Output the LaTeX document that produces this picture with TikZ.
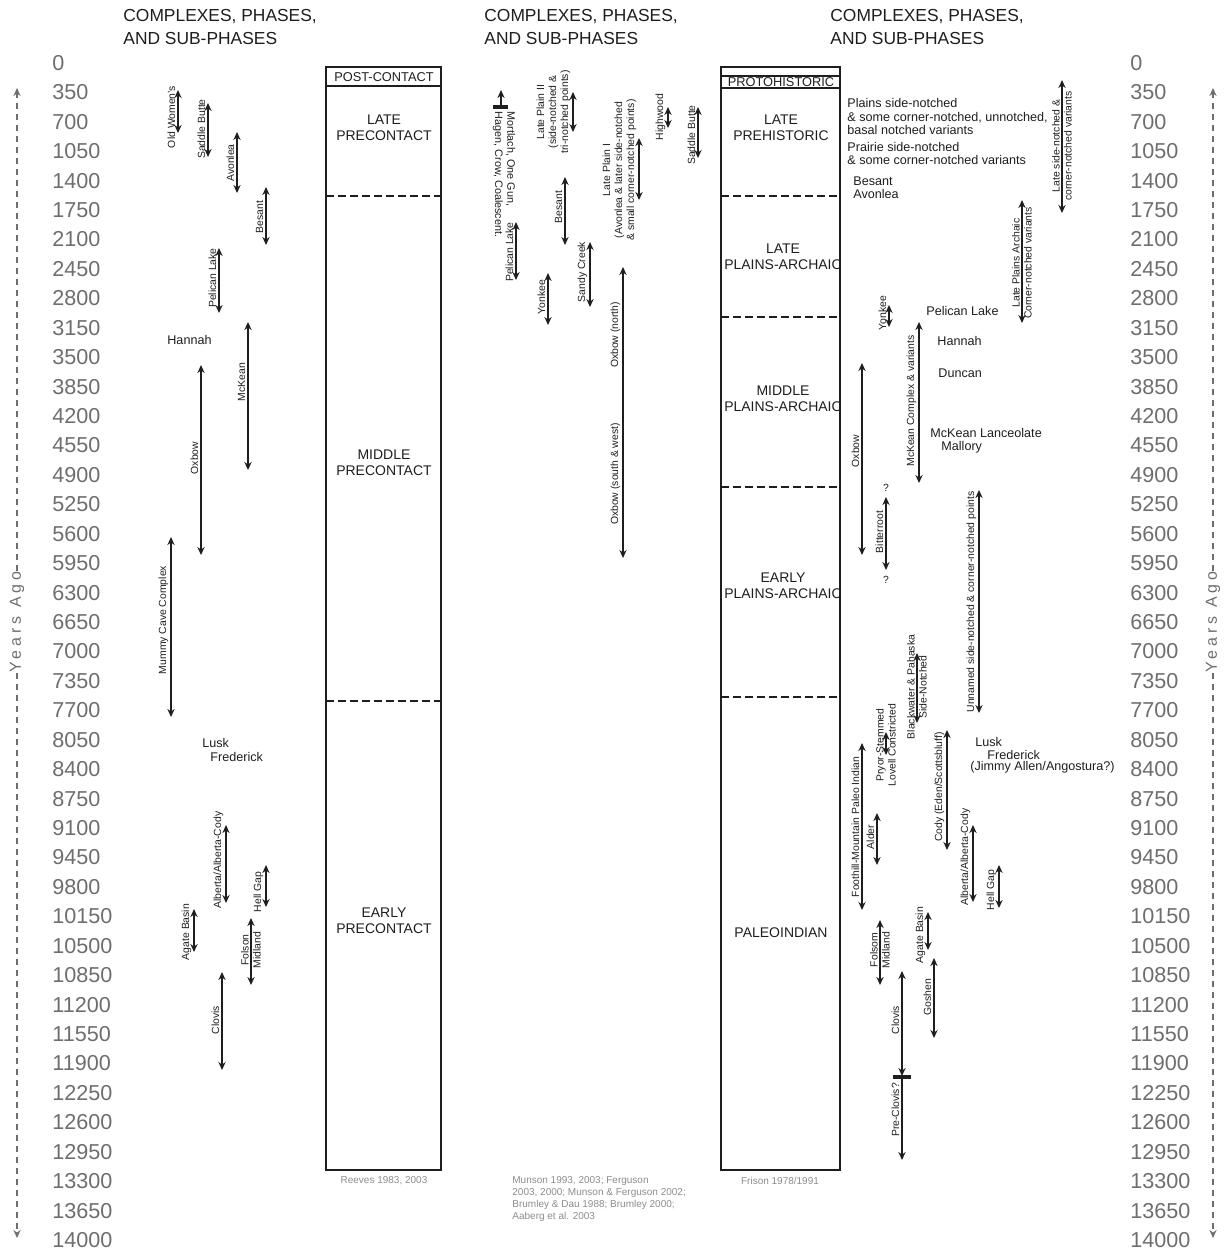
\documentclass[tikz,border=0pt]{standalone}
\usepackage{fontspec}
\setmainfont{Liberation Sans}
\newfontfamily\spacedfont[LetterSpace=25]{Liberation Sans}
\usetikzlibrary{arrows.meta}

\definecolor{axisgray}{HTML}{6E6E6E}
\definecolor{citegray}{HTML}{8C8C8C}
\definecolor{inkgray}{HTML}{1E1E1E}

% phase range: [label style] name, x, top, bottom, label y, text
\newcommand{\phase}[7][tag]{%
  \coordinate (#2-t) at (#3,#4);
  \coordinate (#2-b) at (#3,#5);
  \draw[spanarrow] (#2-t) -- (#2-b);
  \node[#1] (#2-l) at (#3,#6) {#7};
}

\begin{document}
\begin{tikzpicture}[
    x=0.5pt, y=-0.5pt,
    spanarrow/.style={{Stealth[length=4pt,width=3.6pt]}-{Stealth[length=4pt,width=3.6pt]}, line width=0.8pt, draw=inkgray},
    onetip/.style={-{Stealth[length=4pt,width=3.6pt]}, line width=0.8pt, draw=inkgray},
    tbar/.style={line width=1.6pt, draw=inkgray},
    tag/.style={rotate=90, anchor=south, align=center, inner sep=1.2pt, text=inkgray, font=\fontsize{5.2}{6}\selectfont},
    tagc/.style={tag, anchor=center, inner sep=0pt},
    typename/.style={anchor=west, align=left, inner sep=0pt, text=inkgray, font=\fontsize{6.3}{6.6}\selectfont},
    colhead/.style={anchor=north west, align=left, inner sep=0pt, text=inkgray, font=\fontsize{8.7}{11.5}\selectfont},
    yr/.style={anchor=west, inner sep=0pt, text=axisgray, font=\fontsize{10.8}{12}\selectfont},
    colbox/.style={draw=inkgray, line width=1pt},
    divide/.style={draw=inkgray, line width=1pt, dash pattern=on 4pt off 2pt},
    era/.style={align=center, inner sep=0pt, text=inkgray, font=\fontsize{7}{8}\selectfont},
    smallera/.style={era, font=\fontsize{6.4}{7}\selectfont},
    cite/.style={align=center, inner sep=0pt, text=citegray, font=\fontsize{5}{6}\selectfont},
    axisline/.style={draw=axisgray, line width=0.8pt, dash pattern=on 3pt off 2.5pt},
    axislab/.style={rotate=90, inner sep=0pt, text=axisgray, font=\fontsize{8}{9}\spacedfont}
]
\useasboundingbox (0,0) rectangle (1231,1253);

% headings
\node[colhead] (hd-a) at (123,9) {COMPLEXES, PHASES,\\AND SUB-PHASES};
\node[colhead] (hd-b) at (484,9) {COMPLEXES, PHASES,\\AND SUB-PHASES};
\node[colhead] (hd-c) at (830,9) {COMPLEXES, PHASES,\\AND SUB-PHASES};

% years ago scales
\foreach \i in {0,...,40}{
  \pgfmathtruncatemacro{\yrs}{\i*350}
  \node[yr] (yl-\i) at (52,{63+\i*29.425}) {\yrs};
  \node[yr] (yr-\i) at (1130,{63+\i*29.425}) {\yrs};
}
\coordinate (axl-t) at (17,88);
\coordinate (axl-b) at (17,1238);
\node[axislab] (axl) at (17,622) {Years Ago};
\draw[axisline, onetip, draw=axisgray] (axl.west) -- (axl-b);
\draw[axisline, onetip, draw=axisgray] (axl.east) -- (axl-t);
\coordinate (axr-t) at (1213,88);
\coordinate (axr-b) at (1213,1238);
\node[axislab] (axr) at (1213,622) {Years Ago};
\draw[axisline, onetip, draw=axisgray] (axr.west) -- (axr-b);
\draw[axisline, onetip, draw=axisgray] (axr.east) -- (axr-t);

% Reeves complexes
\phase{ow}{178}{90}{133}{117}{Old Women's}
\phase{sb}{208}{103}{157}{129}{Saddle Butte}
\phase{av}{237}{132}{193}{163}{Avonlea}
\phase{bs}{266}{187}{245}{217}{Besant}
\phase{pl}{219}{248}{313}{278}{Pelican Lake}
\phase{mk}{248}{322}{470}{382}{McKean}
\phase{ox}{201}{365}{555}{458}{Oxbow}
\phase{mc}{171}{537}{717}{620}{Mummy Cave Complex}
\phase{ab}{226}{825}{903}{860}{Alberta/Alberta-Cody}
\phase{hg}{266}{865}{907}{892}{Hell Gap}
\phase{ag}{194}{909}{952}{932}{Agate Basin}
\phase[tagc]{fm}{251}{918}{985}{950}{Folson\\Midland}
\phase{cl}{222}{972}{1070}{1020}{Clovis}
\node[typename] (hn) at (167,340) {Hannah};
\node[typename] (lk) at (202,743) {Lusk};
\node[typename] (fr) at (210,757) {Frederick};

% Reeves column
\draw[colbox] (326,67) rectangle (441,1170);
\draw[colbox] (326,86) -- (441,86);
\draw[divide] (326,196) -- (441,196);
\draw[divide] (326,701) -- (441,701);
\node[smallera] (pc) at (384,77) {POST-CONTACT};
\node[era] (lpc) at (384,128) {LATE\\PRECONTACT};
\node[era] (mpc) at (384,463) {MIDDLE\\PRECONTACT};
\node[era] (epc) at (384,921) {EARLY\\PRECONTACT};
\node[cite] (rv) at (384,1181) {Reeves 1983, 2003};

% Munson / Ferguson phases
\coordinate (mo-t) at (501,90);
\coordinate (mo-b) at (501,107);
\draw[onetip] (mo-b) -- (mo-t);
\draw[tbar] ([xshift=-4pt]mo-b) -- ([xshift=3.5pt]mo-b);
\node[tag, rotate=180, anchor=south west, align=left, font=\fontsize{5.4}{6.2}\selectfont] (mo-l) at (490,109) {Mortlach, One Gun,\\Hagen, Crow, Coalescent.};
\phase{lp2}{573}{92}{132}{112}{Late Plain II\\(side-notched \&\\tri-notched points)}
\phase{hw}{668}{107}{128}{117}{Highwood}
\phase{sb2}{698}{107}{158}{135}{Saddle Butte}
\phase{lp1}{639}{138}{200}{170}{Late Plain I\\(Avonlea \& later side-notched\\\& small corner-notched points)}
\phase{bs2}{565}{177}{245}{207}{Besant}
\phase{pl2}{516}{222}{280}{252}{Pelican Lake}
\phase{yk2}{548}{273}{325}{297}{Yonkee}
\phase{sc}{590}{242}{307}{272}{Sandy Creek}
\phase{oxn}{623}{267}{558}{335}{Oxbow (north)}
\node[tag] (oxs-l) at (623,474) {Oxbow (south \& west)};
\node[cite, anchor=north west, align=left] (mf) at (512,1176) {Munson 1993, 2003; Ferguson\\2003, 2000; Munson \& Ferguson 2002;\\Brumley \& Dau 1988; Brumley 2000;\\Aaberg et al. 2003};

% Frison column
\draw[colbox] (721,76) -- (840,76);
\draw[colbox] (721,88) -- (840,88);
\draw[divide] (721,196) -- (840,196);
\draw[divide] (721,317) -- (840,317);
\draw[divide] (721,487) -- (840,487);
\draw[divide] (721,697) -- (840,697);
\node[smallera] (ph) at (781,82) {PROTOHISTORIC};
\node[era] (lph) at (781,128) {LATE\\PREHISTORIC};
\node[era] (lpa-e) at (783,257) {LATE\\PLAINS-ARCHAIC};
\node[era] (mpa-e) at (783,399) {MIDDLE\\PLAINS-ARCHAIC};
\node[era] (epa-e) at (783,586) {EARLY\\PLAINS-ARCHAIC};
\node[era] (pi) at (781,933) {PALEOINDIAN};
\node[cite] (fs) at (780,1181) {Frison 1978/1991};
\draw[colbox] (721,67) rectangle (840,1170);

% Frison phases
\node[typename] (psn) at (847,116.5) {Plains side-notched\\\& some corner-notched, unnotched,\\basal notched variants};
\node[typename] (prs) at (847,153.5) {Prairie side-notched\\\& some corner-notched variants};
\node[typename] (ba) at (853,187.5) {Besant\\Avonlea};
\phase[tagc]{ls}{1062}{80}{213}{146}{Late side-notched \&\\corner-notched variants}
\phase[tagc]{lpa}{1022}{200}{323}{263}{Late Plains Archaic\\Corner-notched variants}
\phase{yk3}{889}{305}{327}{313}{Yonkee}
\node[typename] (pl3) at (926,311) {Pelican Lake};
\node[typename] (hn3) at (937,341) {Hannah};
\node[typename] (dn) at (938,373) {Duncan};
\node[typename] (mkl) at (930,433) {McKean Lanceolate};
\node[typename] (ml) at (941,447) {Mallory};
\phase{mkc}{919}{322}{483}{401}{McKean Complex \& variants}
\phase{ox3}{862}{363}{555}{451}{Oxbow}
\phase{br}{886}{497}{570}{532}{Bitterroot}
\node[tagc, rotate=-90] (bq1) at (886,488) {?};
\node[tagc, rotate=-90] (bq2) at (886,580) {?};
\phase{un}{979}{490}{713}{602}{Unnamed side-notched \& corner-notched points}
\phase[tagc]{bw}{917}{653}{723}{687}{Blackwater \& Pahaska\\Side-Notched}
\phase[tagc]{pry}{886}{732}{755}{745}{Pryor-Stemmed\\Lovell Constricted}
\phase{fmp}{862}{743}{910}{827}{Foothill-Mountain Paleo Indian}
\phase{cody}{947}{730}{850}{787}{Cody (Eden/Scottsbluff)}
\node[typename] (lk3) at (975,742) {Lusk};
\node[typename] (fr3) at (987,755) {Frederick};
\node[typename] (ja) at (970,767) {(Jimmy Allen/Angostura?)};
\phase{al}{877}{813}{865}{837}{Alder}
\phase{ab3}{973}{825}{902}{857}{Alberta/Alberta-Cody}
\phase{hg3}{999}{865}{908}{890}{Hell Gap}
\phase{ag3}{928}{912}{950}{935}{Agate Basin}
\phase[tagc]{fm3}{880}{920}{985}{950}{Folsom\\Midland}
\phase{gs}{934}{958}{1038}{997}{Goshen}
\phase{cl3}{902}{971}{1076}{1020}{Clovis}
\coordinate (pcl-t) at (902,1077);
\coordinate (pcl-b) at (902,1160);
\draw[onetip] (pcl-t) -- (pcl-b);
\draw[tbar] ([xshift=-4.5pt]pcl-t) -- ([xshift=4.5pt]pcl-t);
\node[tag] (pcl-l) at (902,1110) {Pre-Clovis?};
\end{tikzpicture}
\end{document}
